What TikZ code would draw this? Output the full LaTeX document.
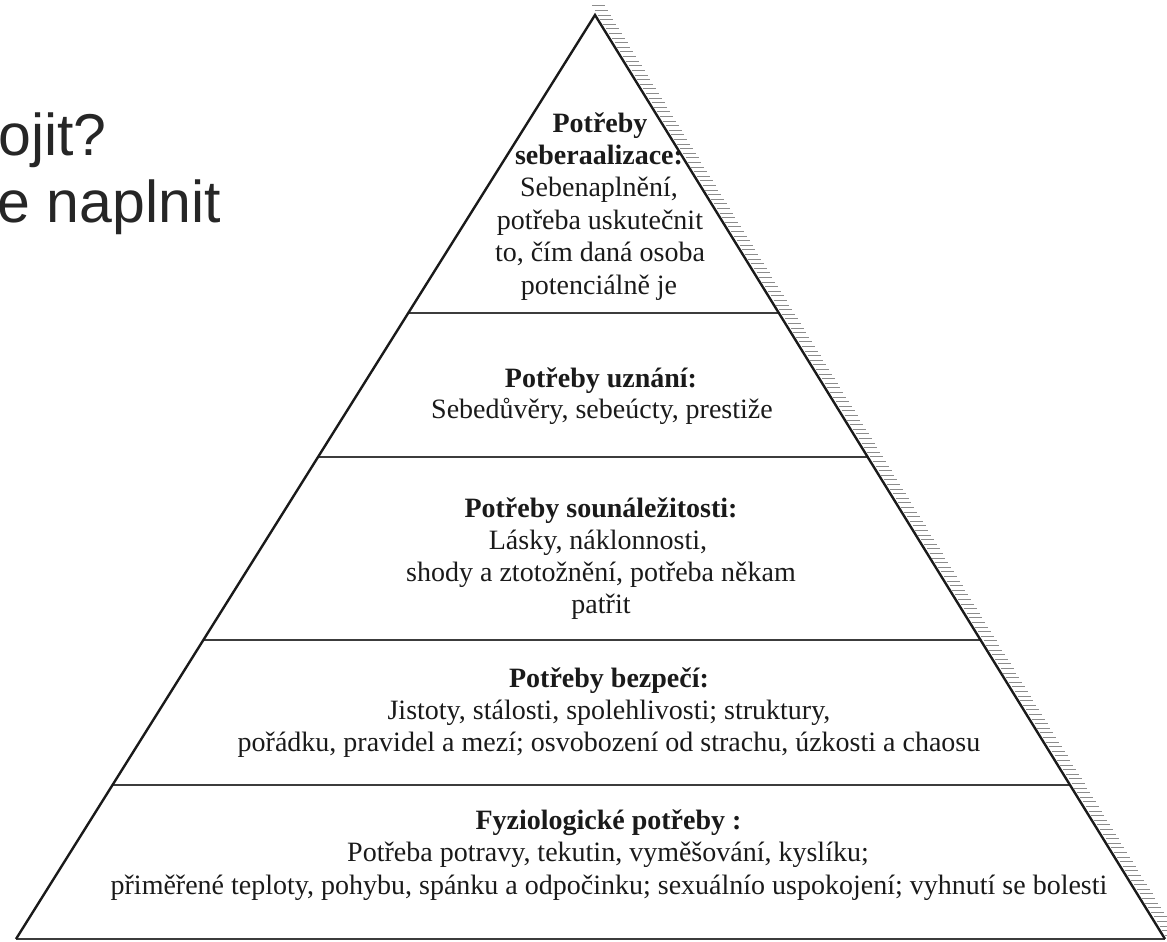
\documentclass[tikz,border=0pt]{standalone}
\usepackage{fontspec}
\setmainfont{Liberation Serif}
\newfontfamily\arialf{Liberation Sans}
\usetikzlibrary{calc}
\definecolor{ink}{HTML}{1A1A1A}
\definecolor{slide}{HTML}{262626}
\tikzset{
  edge/.style={draw=ink, line width=2.4pt, line join=miter},
  tier/.style={draw=ink!85, line width=2.8pt},
  hatch/.style={draw=black!45, line width=1pt},
  body/.style={font=\fontsize{28}{31}\selectfont, text=ink, inner sep=0pt, anchor=base},
  head/.style={body, font=\fontsize{28}{31}\selectfont\bfseries},
  slidetxt/.style={font=\arialf\fontsize{59}{70}\selectfont, text=slide, inner sep=0pt, anchor=base east}
}
\begin{document}
\begin{tikzpicture}[x=1pt,y=-1pt]
\useasboundingbox (0,0) rectangle (1167,942);
\clip (0,0) rectangle (1167,942);

% slide text, cut at the left
\node[slidetxt] (s1) at (107,155) {ojit?};
\node[slidetxt] (s2) at (221,222) {e naplnit};

% pyramid
\coordinate (apex) at (595,15);
\coordinate (bl) at (16,939);
\coordinate (br) at (1165,939);

% hatching along right edge
\foreach \yy in {6,10.6,...,936} {
  \pgfmathsetmacro{\xe}{595+0.6169*(\yy-15)}
  \draw[hatch] (\xe+2.5,\yy) -- ++(13,0);
}

\path (apex) -- (bl)
  coordinate[pos=0.3225] (l1) coordinate[pos=0.4784] (l2)
  coordinate[pos=0.6764] (l3) coordinate[pos=0.8333] (l4);
\path (apex) -- (br)
  coordinate[pos=0.3225] (r1) coordinate[pos=0.4784] (r2)
  coordinate[pos=0.6764] (r3) coordinate[pos=0.8333] (r4);

\draw[tier] (l1) -- (r1);
\draw[tier] (l2) -- (r2);
\draw[tier] (l3) -- (r3);
\draw[tier] (l4) -- (r4);
\draw[tier] (bl) -- (br);
\draw[edge] (bl) -- (apex) -- (br);

% level 5
\node[head] (a1) at (600,132) {Potřeby};
\node[head] (a2) at (599,164.4) {seberaalizace:};
\node[body] (a3) at (599,196.8) {Sebenaplnění,};
\node[body] (a4) at (600,229.2) {potřeba uskutečnit};
\node[body] (a5) at (600,261.6) {to, čím daná osoba};
\node[body] (a6) at (599,294) {potenciálně je};

% level 4
\node[head] (b1) at (601,387) {Potřeby uznání:};
\node[body] (b2) at (602,418) {Sebedůvěry, sebeúcty, prestiže};

% level 3
\node[head] (c1) at (601,517) {Potřeby sounáležitosti:};
\node[body] (c2) at (598,549) {Lásky, náklonnosti,};
\node[body] (c3) at (601,581) {shody a ztotožnění, potřeba někam};
\node[body] (c4) at (601,613) {patřit};

% level 2
\node[head] (d1) at (609,687) {Potřeby bezpečí:};
\node[body] (d2) at (609,719) {Jistoty, stálosti, spolehlivosti; struktury,};
\node[body] (d3) at (609,751) {pořádku, pravidel a mezí; osvobození od strachu, úzkosti a chaosu};

% level 1
\node[head] (e1) at (608.5,829) {Fyziologické potřeby :};
\node[body] (e2) at (608,861) {Potřeba potravy, tekutin, vyměšování, kyslíku;};
\node[body] (e3) at (609,894) {přiměřené teploty, pohybu, spánku a odpočinku; sexuálnío uspokojení; vyhnutí se bolesti};
\end{tikzpicture}
\end{document}
